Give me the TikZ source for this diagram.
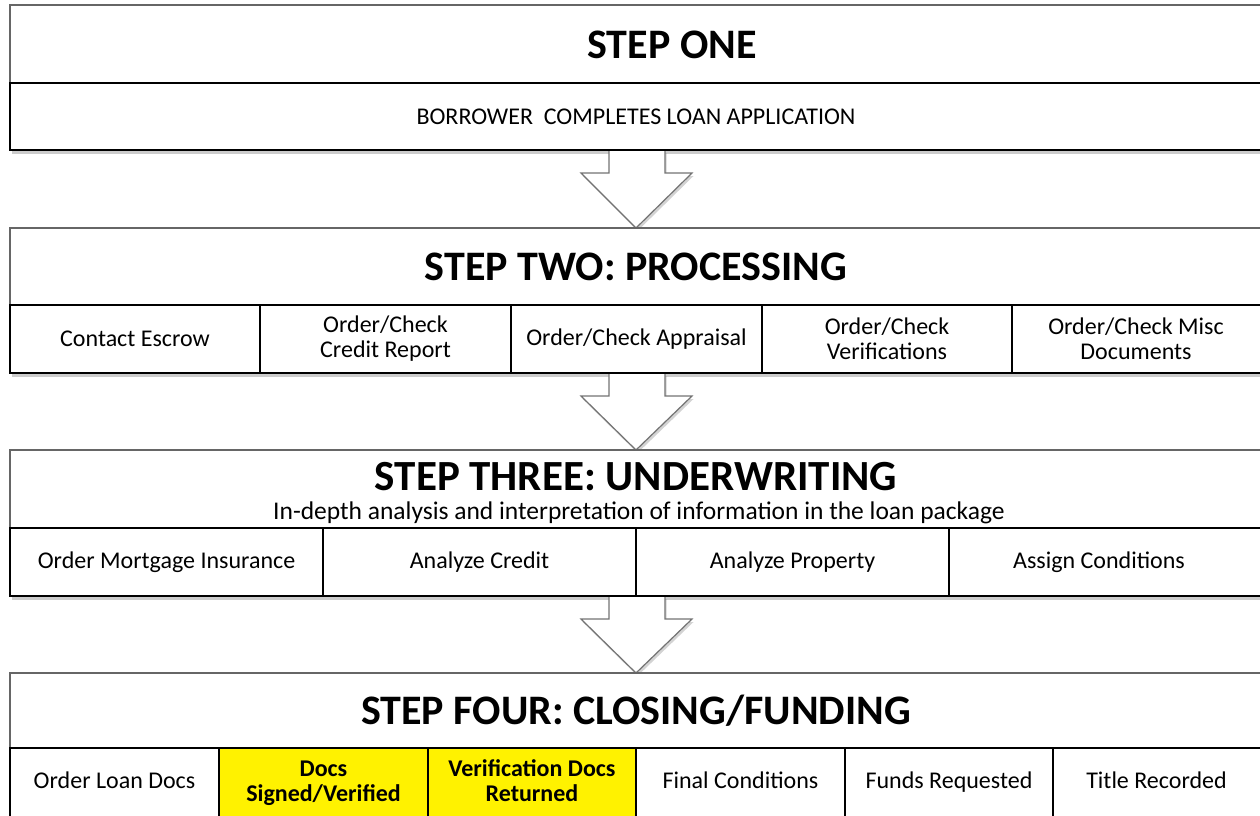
\documentclass[tikz,border=0pt]{standalone}
\usepackage{fontspec}
\setmainfont{Carlito}
\usetikzlibrary{shadows}
\tikzset{
  x=1pt, y=-1pt,
  base/.style={rectangle, inner sep=0pt, outer sep=0pt, align=center, font=\fontsize{24}{25}\selectfont},
  titlebox/.style={base, draw=black!60, line width=1.2pt, fill=white},
  cellbox/.style={base, draw=black, line width=1.8pt, fill=white},
  hl/.style={cellbox, fill=yellow},
  lbl/.style={base, text height=17pt, text depth=6pt},
  hllbl/.style={base, font=\fontsize{24}{25}\selectfont\bfseries},
  frame/.style={draw=black!60, line width=1.2pt, fill=white,
    drop shadow={opacity=0.4, shadow xshift=1.5pt, shadow yshift=-4pt}},
  blockarrow/.style={draw=black!55, line width=1.2pt, fill=white,
    drop shadow={opacity=0.35, shadow xshift=1.5pt, shadow yshift=-3pt}},
  ttl/.style={inner sep=0pt, font=\fontsize{42}{46}\selectfont\bfseries},
  sub/.style={inner sep=0pt, font=\fontsize{24}{25}\selectfont},
}
% name, x1, y1, x2, y2, style, text
\newcommand\bx[7]{\node[#6, minimum width={(#4)-(#2)}, minimum height={(#5)-(#3)}] (#1) at ({((#2)+(#4))/2},{((#3)+(#5))/2}) {#7};}
\begin{document}
\begin{tikzpicture}
\useasboundingbox (0,0) rectangle (1260,815);
\clip (0,0) rectangle (1260,815);
% frames with shadows
\path[frame] (10,5) rectangle (1275,150);
\path[frame] (10,228) rectangle (1275,373);
\path[frame] (10,450) rectangle (1275,596);
\path[frame] (10,673) rectangle (1275,830);
% block arrows
\path[blockarrow] (609,150) -- (609,173) -- (581,173) -- (636,228) -- (692,173) -- (665,173) -- (665,150);
\path[blockarrow] (609,373) -- (609,396) -- (581,396) -- (636,450) -- (692,396) -- (665,396) -- (665,373);
\path[blockarrow] (609,596) -- (609,619) -- (581,619) -- (636,673) -- (692,619) -- (665,619) -- (665,596);
% step one
\bx{s1t}{10}{5}{1275}{83}{titlebox}{}
\bx{s1c}{10}{83}{1275}{150}{cellbox}{}
\node[ttl] (t1) at (672,45) {STEP ONE};
\node[sub] (c1) at (636,116.5) {BORROWER\ \ COMPLETES LOAN APPLICATION};
% step two
\bx{s2t}{10}{228}{1275}{305}{titlebox}{}
\node[ttl] (t2) at (636,266.5) {STEP TWO: PROCESSING};
\bx{s2a}{10}{305}{260}{373}{cellbox}{Contact Escrow}
\bx{s2b}{260}{305}{511}{373}{cellbox}{Order/Check\\Credit Report}
\bx{s2c}{511}{305}{762}{373}{cellbox}{Order/Check Appraisal}
\bx{s2d}{762}{305}{1012}{373}{cellbox}{Order/Check\\Verifications}
\bx{s2e}{1012}{305}{1275}{373}{cellbox}{\hspace*{-15pt}Order/Check Misc\\\hspace*{-15pt}Documents}
% step three
\bx{s3t}{10}{450}{1275}{528}{titlebox}{}
\node[ttl, font=\fontsize{43}{46}\selectfont\bfseries] (t3) at (636,477) {STEP THREE: UNDERWRITING};
\node[sub, font=\fontsize{25.5}{27}\selectfont] (t3s) at (639,513) {In-depth analysis and interpretation of information in the loan package};
\bx{s3a}{10}{528}{323}{596}{cellbox}{Order Mortgage Insurance}
\bx{s3b}{323}{528}{636}{596}{cellbox}{Analyze Credit}
\bx{s3c}{636}{528}{949}{596}{cellbox}{Analyze Property}
\bx{s3d}{949}{528}{1275}{596}{cellbox}{\hspace*{-26pt}Assign Conditions}
% step four
\bx{s4t}{10}{673}{1275}{748}{titlebox}{}
\node[ttl] (t4) at (636,710.5) {STEP FOUR: CLOSING/FUNDING};
\bx{s4a}{10}{748}{219}{830}{cellbox}{}
\bx{s4b}{219}{748}{428}{830}{hl}{}
\bx{s4c}{428}{748}{636}{830}{hl}{}
\bx{s4d}{636}{748}{845}{830}{cellbox}{}
\bx{s4e}{845}{748}{1053}{830}{cellbox}{}
\bx{s4f}{1053}{748}{1275}{830}{cellbox}{}
\node[lbl] (l4a) at (114.5,782.5) {Order Loan Docs};
\node[hllbl] (l4b) at (323.5,783) {Docs\\Signed/Verified};
\node[hllbl] (l4c) at (532,780.5) {Verification Docs\\Returned};
\node[lbl] (l4d) at (740.5,782.5) {Final Conditions};
\node[lbl] (l4e) at (949,782.5) {Funds Requested};
\node[lbl] (l4f) at (1156.5,782.5) {Title Recorded};
\end{tikzpicture}
\end{document}
